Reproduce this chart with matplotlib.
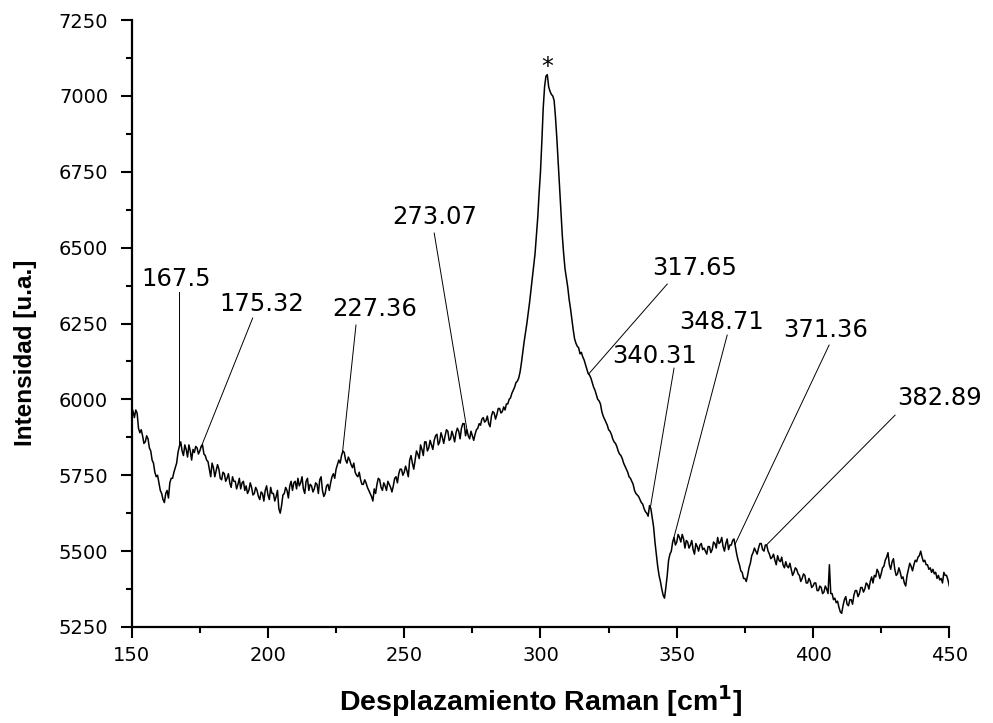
import numpy as np
import matplotlib
matplotlib.use("Agg")
import matplotlib.pyplot as plt
from matplotlib.ticker import MultipleLocator

# Raman spectrum, 0.5 cm-1 step from 150 to 450
shift = np.arange(150, 450.5, 0.5)
intensity = [
    5975, 5960, 5940, 5965, 5955, 5905, 5890, 5900, 5880, 5855,  # 150
    5860, 5880, 5870, 5840, 5830, 5800, 5790, 5760, 5745, 5750,  # 155
    5725, 5700, 5690, 5670, 5660, 5690, 5700, 5675, 5725, 5740,  # 160
    5740, 5760, 5775, 5790, 5825, 5845, 5860, 5830, 5815, 5850,  # 165
    5835, 5810, 5850, 5830, 5800, 5835, 5825, 5845, 5840, 5820,  # 170
    5830, 5845, 5850, 5820, 5815, 5800, 5795, 5770, 5745, 5790,  # 175
    5775, 5745, 5765, 5785, 5770, 5740, 5735, 5760, 5755, 5730,  # 180
    5740, 5755, 5725, 5710, 5745, 5730, 5730, 5705, 5720, 5740,  # 185
    5705, 5725, 5730, 5700, 5715, 5690, 5700, 5725, 5710, 5685,  # 190
    5690, 5710, 5700, 5680, 5670, 5695, 5690, 5665, 5700, 5715,  # 195
    5685, 5670, 5710, 5690, 5690, 5665, 5680, 5700, 5640, 5625,  # 200
    5650, 5685, 5690, 5710, 5700, 5675, 5715, 5730, 5700, 5725,  # 205
    5730, 5705, 5740, 5715, 5725, 5745, 5705, 5690, 5730, 5740,  # 210
    5700, 5720, 5715, 5695, 5705, 5725, 5720, 5690, 5735, 5745,  # 215
    5700, 5680, 5690, 5715, 5720, 5700, 5725, 5745, 5755, 5740,  # 220
    5770, 5785, 5800, 5790, 5815, 5830, 5825, 5800, 5790, 5810,  # 225
    5800, 5785, 5775, 5790, 5760, 5750, 5745, 5760, 5735, 5720,  # 230
    5720, 5735, 5725, 5710, 5700, 5690, 5680, 5665, 5705, 5690,  # 235
    5720, 5740, 5735, 5710, 5700, 5725, 5715, 5700, 5730, 5720,  # 240
    5710, 5695, 5715, 5740, 5745, 5725, 5755, 5770, 5770, 5750,  # 245
    5760, 5780, 5765, 5745, 5800, 5815, 5790, 5770, 5800, 5830,  # 250
    5820, 5805, 5850, 5835, 5815, 5860, 5860, 5830, 5840, 5865,  # 255
    5850, 5835, 5865, 5880, 5885, 5850, 5860, 5890, 5875, 5855,  # 260
    5880, 5900, 5895, 5865, 5870, 5895, 5880, 5860, 5890, 5905,  # 265
    5895, 5870, 5905, 5920, 5920, 5880, 5900, 5880, 5870, 5895,  # 270
    5880, 5865, 5885, 5900, 5905, 5920, 5915, 5935, 5940, 5925,  # 275
    5930, 5945, 5920, 5910, 5945, 5960, 5955, 5935, 5950, 5970,  # 280
    5970, 5955, 5960, 5975, 5965, 5985, 5985, 6000, 6005, 6020,  # 285
    6030, 6040, 6055, 6060, 6070, 6090, 6120, 6155, 6190, 6220,  # 290
    6250, 6285, 6320, 6360, 6400, 6440, 6480, 6540, 6600, 6680,  # 295
    6750, 6850, 6960, 7030, 7065, 7070, 7030, 7015, 7005, 7000,  # 300
    6985, 6930, 6860, 6780, 6700, 6620, 6540, 6480, 6430, 6400,  # 305
    6370, 6330, 6300, 6265, 6230, 6200, 6185, 6175, 6170, 6150,  # 310
    6155, 6140, 6130, 6115, 6100, 6085, 6080, 6070, 6055, 6040,  # 315
    6030, 6015, 6000, 5995, 5985, 5960, 5945, 5935, 5925, 5915,  # 320
    5900, 5895, 5885, 5870, 5860, 5855, 5845, 5830, 5820, 5815,  # 325
    5805, 5790, 5780, 5770, 5760, 5745, 5740, 5730, 5720, 5700,  # 330
    5690, 5685, 5680, 5670, 5660, 5655, 5640, 5630, 5625, 5615,  # 335
    5650, 5640, 5610, 5580, 5530, 5490, 5450, 5420, 5400, 5375,  # 340
    5355, 5345, 5380, 5420, 5470, 5490, 5500, 5530, 5545, 5520,  # 345
    5530, 5555, 5545, 5530, 5555, 5540, 5510, 5535, 5530, 5510,  # 350
    5520, 5535, 5505, 5490, 5525, 5515, 5500, 5520, 5525, 5505,  # 355
    5510, 5500, 5490, 5515, 5515, 5495, 5505, 5530, 5525, 5510,  # 360
    5545, 5525, 5530, 5545, 5515, 5500, 5525, 5540, 5505, 5520,  # 365
    5520, 5535, 5540, 5515, 5490, 5470, 5455, 5435, 5430, 5410,  # 370
    5410, 5400, 5420, 5445, 5460, 5485, 5495, 5510, 5500, 5490,  # 375
    5510, 5525, 5525, 5505, 5500, 5520, 5520, 5500, 5490, 5475,  # 380
    5480, 5490, 5470, 5455, 5485, 5470, 5465, 5480, 5455, 5445,  # 385
    5465, 5450, 5445, 5460, 5440, 5420, 5430, 5445, 5440, 5425,  # 390
    5420, 5400, 5410, 5425, 5420, 5395, 5395, 5410, 5400, 5380,  # 395
    5385, 5395, 5395, 5370, 5370, 5385, 5380, 5360, 5365, 5385,  # 400
    5375, 5360, 5455, 5360, 5360, 5340, 5345, 5330, 5335, 5315,  # 405
    5300, 5295, 5320, 5340, 5350, 5325, 5320, 5340, 5340, 5325,  # 410
    5355, 5370, 5370, 5350, 5360, 5380, 5380, 5365, 5375, 5395,  # 415
    5390, 5375, 5400, 5415, 5395, 5420, 5415, 5440, 5430, 5410,  # 420
    5425, 5445, 5450, 5470, 5480, 5495, 5455, 5440, 5465, 5475,  # 425
    5440, 5420, 5425, 5445, 5430, 5410, 5415, 5395, 5385, 5420,  # 430
    5440, 5460, 5450, 5435, 5455, 5470, 5465, 5480, 5485, 5500,  # 435
    5480, 5465, 5470, 5455, 5455, 5440, 5445, 5430, 5440, 5425,  # 440
    5430, 5410, 5420, 5405, 5410, 5395, 5430, 5420, 5420, 5405,  # 445
    5385,                                                        # 450
]

# assigned bands
peaks = ["167.5", "175.32", "227.36", "273.07", "317.65",
         "340.31", "348.71", "371.36", "382.89"]
# where each label sits and where its leader line starts
label_xy = [(166.4, 6397), (197.8, 6314), (239.0, 6298), (261.1, 6601), (356.7, 6433),
            (342.0, 6143), (366.3, 6255), (404.8, 6229), (446.6, 6004)]
line_top = [(167.5, 6354), (194.4, 6268), (232.3, 6245), (261.0, 6548), (346.5, 6380),
            (349.0, 6103), (368.5, 6212), (405.9, 6179), (430.1, 5948)]

fig = plt.figure(figsize=(9.93, 7.23), dpi=100)
ax = fig.add_axes([0.1326, 0.1328, 0.8234, 0.8395])

ax.plot(shift, intensity, color="black", lw=1.1)

for lab, (tx, ty), (lx, ly) in zip(peaks, label_xy, line_top):
    px = float(lab)
    py = np.interp(px, shift, intensity)
    ax.plot([lx, px], [ly, py], color="black", lw=0.7)
    ax.text(tx, ty, lab, fontsize=17.5, family="DejaVu Sans",
            ha="center", va="center")

# strongest band
top = int(np.argmax(intensity))
ax.text(shift[top], intensity[top] + 25, "*", fontsize=17, family="DejaVu Sans",
        ha="center", va="center")

ax.set_xlim(150, 450)
ax.set_ylim(5250, 7250)
ax.xaxis.set_major_locator(MultipleLocator(50))
ax.xaxis.set_minor_locator(MultipleLocator(25))
ax.yaxis.set_major_locator(MultipleLocator(250))
ax.yaxis.set_minor_locator(MultipleLocator(125))
ax.tick_params(which="major", length=8, width=1.5, labelsize=14)
ax.tick_params(which="minor", length=4.5, width=1.5)
ax.tick_params(axis="x", which="major", pad=6)
ax.tick_params(axis="y", which="major", pad=9)
for t in ax.get_xticklabels() + ax.get_yticklabels():
    t.set_family("DejaVu Sans")

for s in ["top", "right"]:
    ax.spines[s].set_visible(False)
for s in ["left", "bottom"]:
    ax.spines[s].set_linewidth(1.6)

ax.set_xlabel("Desplazamiento Raman [cm$^{\\mathbf{1}}$]", fontsize=20.5, fontweight="bold",
              family="Liberation Sans")
ax.set_ylabel("Intensidad [u.a.]", fontsize=17.5, fontweight="bold",
              family="Liberation Sans")
ax.xaxis.set_label_coords(0.5, -0.092)
ax.yaxis.set_label_coords(-0.116, 0.451)

fig.savefig("out.png", dpi=100)
